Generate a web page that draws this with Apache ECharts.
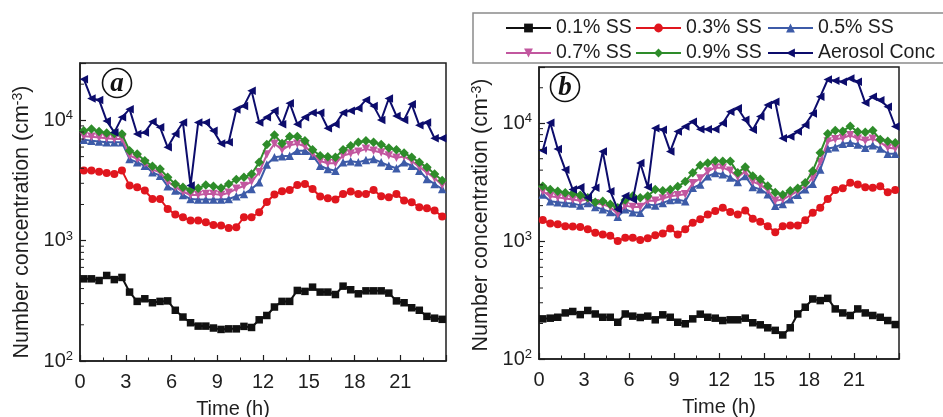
<!DOCTYPE html>
<html>
<head>
<meta charset="utf-8">
<script src="https://cdn.jsdelivr.net/npm/echarts@6/dist/echarts.min.js"></script>
<style>
  html, body { margin: 0; padding: 0; background: #fff; }
  #chart { width: 943px; height: 417px; }
</style>
</head>
<body>
<div id="chart"></div>
<script>
// Sampling times (h), half-hour bins
const hours = [0.25,0.75,1.25,1.75,2.25,2.75,3.25,3.75,4.25,4.75,5.25,5.75,6.25,6.75,7.25,7.75,
  8.25,8.75,9.25,9.75,10.25,10.75,11.25,11.75,12.25,12.75,13.25,13.75,14.25,14.75,15.25,15.75,
  16.25,16.75,17.25,17.75,18.25,18.75,19.25,19.75,20.25,20.75,21.25,21.75,22.25,22.75,23.25,23.75];

const seriesNames = ['0.1% SS', '0.3% SS', '0.5% SS', '0.7% SS', '0.9% SS', 'Aerosol Conc'];

// Panel (a) number concentrations, cm^-3
const a_ss01 = [482,482,467,514,475,495,374,313,329,305,313,316,264,232,208,195,195,188,183,185,185,194,190,220,
  239,281,313,313,386,379,411,374,374,357,419,391,362,383,383,383,367,316,305,277,264,235,227,222];
const a_ss03 = [3826,3826,3750,3654,3581,3826,2871,2780,2608,2222,2222,1837,1649,1567,1470,1470,1425,1352,1336,1277,1294,1567,1567,1725,
  2100,2417,2575,2641,2906,2961,2692,2327,2253,2198,2449,2561,2449,2449,2641,2340,2296,2449,2155,2087,1899,1862,1782,1589];
const a_ss05 = [6920,6780,6690,6570,6570,6570,4770,4480,4200,3700,3470,2830,2610,2400,2220,2200,2200,2200,2200,2220,2340,2450,2690,3060,
  4300,4930,5030,5090,5600,5600,5090,4200,3940,3820,4480,4570,4480,4690,4770,4480,4200,4000,4480,4200,3820,3260,2960,2690];
const a_ss07 = [7400,7300,7200,7100,7000,7000,5100,4800,4400,3900,3700,3100,2800,2550,2400,2400,2450,2450,2400,2500,2700,2850,3100,3700,
  5200,6400,5700,6200,6400,6100,5300,4600,4400,4400,5100,5300,5500,5800,5600,5400,5100,4900,5000,4600,4100,3700,3300,2900];
const a_ss09 = [8200,8470,8100,7860,7800,7700,5600,5250,4620,4150,3940,3370,2960,2780,2640,2730,2900,2830,2740,2960,3220,3370,3580,4480,
  6300,7550,6440,7360,7360,6780,5710,5090,4990,4930,5710,6170,6570,6780,6570,6300,5890,5710,5360,4930,4480,4070,3580,3160];
const a_aero = [22000,15200,14800,9900,7950,10600,12400,7700,7950,9750,8750,5970,7700,9600,2870,9600,9600,8200,6440,6570,12300,13200,17600,9600,
  10600,12000,9300,13900,9300,10600,11600,11600,8600,9300,11600,12000,12600,14800,13200,10100,15200,10900,10100,13600,9100,9600,7100,7100];

// Panel (b) number concentrations, cm^-3
const b_ss01 = [219,222,226,246,253,238,258,241,226,226,205,241,231,225,231,215,237,226,205,199,219,240,226,222,
  212,215,215,222,203,195,184,175,160,184,241,275,323,313,327,266,246,234,266,246,234,226,212,196];
const b_ss03 = [1510,1410,1390,1340,1330,1320,1260,1180,1140,1110,1000,1070,1070,1020,1060,1120,1160,1280,1140,1260,1430,1530,1680,1800,
  1920,1770,1680,1820,1550,1460,1340,1190,1340,1360,1360,1500,1740,1920,2280,2710,2810,3120,3020,2870,2840,2920,2600,2710];
const b_ss05 = [2480,2180,2140,2110,2090,2010,2110,1950,1860,1770,1610,1860,1760,1740,2050,2010,2110,2230,2250,2180,2830,3020,3550,3780,
  3700,3460,3180,3570,2880,2750,2500,2000,2060,2270,2470,2750,3070,4060,6110,6270,6690,6820,6610,6190,6520,6110,5510,5510];
const b_ss07 = [2650,2400,2350,2300,2250,2200,2250,2100,2050,1950,1700,2000,1950,1950,2200,2200,2300,2400,2450,2500,3100,3400,3900,4200,
  4200,3950,3500,3900,3200,3000,2700,2200,2250,2450,2650,2950,3450,4700,7000,7300,7500,7900,7400,7100,7400,6900,6200,6100];
const b_ss09 = [2920,2740,2650,2570,2530,2450,2330,2140,2180,2050,1920,2230,2410,2330,2410,2740,2680,2740,2900,3200,3800,4400,4600,4800,
  4750,4750,3810,4250,3570,3350,2940,2580,2470,2670,2810,3130,3940,5620,8130,8670,8560,9440,8450,8400,8670,7280,7050,6820];
const b_aero = [5880,10100,6040,4040,2740,2860,2330,2830,5770,2650,1860,2410,2250,4600,2860,9070,8790,5770,8500,9380,10300,8900,8900,8900,
  10000,12500,13400,10700,8790,11400,14300,15200,7470,7710,8500,9680,12100,16800,23500,22900,22500,24000,22500,14900,16800,15700,13800,9380];

// Axis ticks
const xTickLabels = [0, 3, 6, 9, 12, 15, 18, 21];
const yMinorTicks = [200,300,400,500,600,700,800,900,2000,3000,4000,5000,6000,7000,8000,9000,20000];

const FONT = 'Liberation Sans, Arial, sans-serif';
const INK = '#1e1e1e';

// Line/marker look for each curve
const looks = [
  { color: '#111111', symbol: 'rect', size: 7.5, rotate: 0 },
  { color: '#e0161e', symbol: 'circle', size: 8, rotate: 0 },
  { color: '#3d5ba8', symbol: 'triangle', size: 8.5, rotate: 0 },
  { color: '#c2579f', symbol: 'triangle', size: 8.5, rotate: 180 },
  { color: '#2e8c2a', symbol: 'diamond', size: 9.5, rotate: 0 },
  { color: '#0c0c6c', symbol: 'triangle', size: 8.5, rotate: 90 }
];

function pairs(vals) { return hours.map((h, i) => [h, vals[i]]); }

function curve(name, vals, k, panel) {
  const L = looks[k];
  return {
    name: name, type: 'line', xAxisIndex: panel, yAxisIndex: panel,
    data: pairs(vals),
    symbol: L.symbol, symbolSize: L.size, symbolRotate: L.rotate,
    showSymbol: true,
    lineStyle: { color: L.color, width: 2 },
    itemStyle: { color: L.color, borderWidth: 0 },
    emphasis: { disabled: true },
    animation: false, z: 3 + k
  };
}

function minorTicks(panel) {
  return {
    type: 'custom', xAxisIndex: panel, yAxisIndex: panel, silent: true, clip: false,
    data: yMinorTicks.map(v => [0, v]), animation: false, z: 10,
    renderItem: (params, api) => {
      const p = api.coord([api.value(0), api.value(1)]);
      return { type: 'line', shape: { x1: p[0], y1: p[1], x2: p[0] + 4, y2: p[1] },
               style: { stroke: INK, lineWidth: 1 } };
    }
  };
}

function xAxis(panel, namePad) {
  return {
    type: 'value', gridIndex: panel, min: 0, max: 24, interval: 3,
    name: 'Time (h)', nameLocation: 'middle', nameGap: 38,
    nameTextStyle: { fontFamily: FONT, fontSize: 20, color: INK, padding: namePad },
    axisLine: { show: true, lineStyle: { color: INK, width: 1.5 } },
    axisTick: { show: true, inside: true, length: 6, lineStyle: { color: INK, width: 1.2 } },
    minorTick: { show: true, splitNumber: 2, length: 3.5, lineStyle: { color: INK, width: 1 } },
    splitLine: { show: false },
    axisLabel: { fontFamily: FONT, fontSize: 20, color: INK, margin: 11,
      formatter: v => (xTickLabels.indexOf(v) >= 0 ? String(v) : '') }
  };
}

function yAxis(panel, namePad) {
  return {
    type: 'log', logBase: 10, gridIndex: panel, min: 100, max: 30000,
    name: '{n|Number concentration (cm}{s|-3}{n|)}', nameLocation: 'middle', nameRotate: 90, nameGap: 46,
    nameTextStyle: { padding: namePad, rich: {
      n: { fontFamily: FONT, fontSize: 21.5, color: INK },
      s: { fontFamily: FONT, fontSize: 14, color: INK, verticalAlign: 'top', padding: [0, 0, 9, 0] }
    } },
    axisLine: { show: true, lineStyle: { color: INK, width: 1.5 } },
    axisTick: { show: true, inside: true, length: 6, lineStyle: { color: INK, width: 1.2 } },
    splitLine: { show: false },
    axisLabel: {
      margin: 7,
      formatter: v => {
        const e = Math.log10(v);
        const r = Math.round(e);
        if (Math.abs(e - r) > 1e-6) return '';
        return '{b|10}{s|' + r + '}';
      },
      rich: {
        b: { fontFamily: FONT, fontSize: 20, color: INK },
        s: { fontFamily: FONT, fontSize: 13, color: INK, verticalAlign: 'top', padding: [0, 0, 9, 0] }
      }
    }
  };
}

// Legend positions: three columns, two rows
const legendSlots = [
  { left: 505, top: 18 }, { left: 635, top: 18 }, { left: 767, top: 18 },
  { left: 505, top: 43 }, { left: 635, top: 43 }, { left: 767, top: 43 }
];
const legends = seriesNames.map((n, k) => ({
  data: [n], left: legendSlots[k].left, top: legendSlots[k].top, padding: 0,
  itemWidth: 45, itemHeight: 11, itemGap: 0, selectedMode: false,
  textStyle: { fontFamily: FONT, fontSize: 19.5, color: INK, padding: [0, 0, 0, 0] }
}));

const setA = [a_ss01, a_ss03, a_ss05, a_ss07, a_ss09, a_aero];
const setB = [b_ss01, b_ss03, b_ss05, b_ss07, b_ss09, b_aero];

const series = [];
setA.forEach((vals, k) => series.push(curve(seriesNames[k], vals, k, 0)));
setB.forEach((vals, k) => series.push(curve(seriesNames[k], vals, k, 1)));
series.push(minorTicks(0), minorTicks(1));

function panelTag(cx, cy, letter) {
  return [
    { type: 'circle', shape: { cx: cx, cy: cy, r: 14.5 }, style: { fill: '#fff', stroke: '#111', lineWidth: 1.6 }, z: 20 },
    { type: 'text', x: cx, y: cy + 1, z: 21,
      style: { text: letter, font: 'italic bold 27px "Liberation Serif", "Times New Roman", serif',
               fill: '#111', align: 'center', verticalAlign: 'middle' } }
  ];
}

const chart = echarts.init(document.getElementById('chart'), null, { renderer: 'canvas' });
chart.setOption({
  animation: false,
  backgroundColor: '#ffffff',
  grid: [
    { left: 80, top: 63, right: 497, bottom: 56, show: true, borderColor: INK, borderWidth: 1.5,
      containLabel: false, outerBoundsMode: 'none' },
    { left: 539, top: 67, right: 44, bottom: 58, show: true, borderColor: INK, borderWidth: 1.5,
      containLabel: false, outerBoundsMode: 'none' }
  ],
  xAxis: [xAxis(0, [0, 60, 0, 0]), xAxis(1, [0, 0, 0, 0])],
  yAxis: [yAxis(0, [0, 20, 0, 0]), yAxis(1, [0, 4, 0, 0])],
  legend: legends,
  graphic: [
    { type: 'rect', shape: { x: 473, y: 13, width: 475, height: 50 },
      style: { fill: '#fff', stroke: '#8a8a8a', lineWidth: 1.5 }, z: -1 }
  ].concat(panelTag(117, 83, 'a'), panelTag(565, 87, 'b')),
  series: series
});
</script>
</body>
</html>
